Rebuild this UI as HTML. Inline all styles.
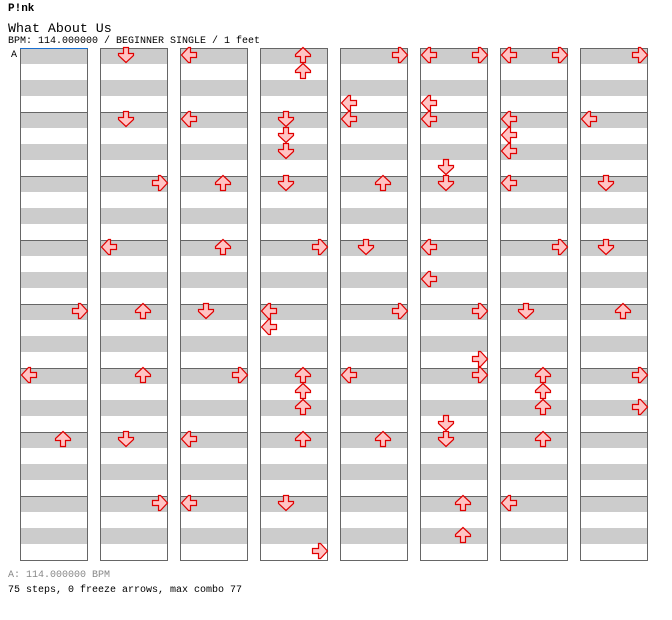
<!DOCTYPE html>
<html><head><meta charset="utf-8"><style>
body{margin:0;background:#fff;width:672px;height:620px;overflow:hidden;font-family:"Liberation Mono",monospace;}
.t{position:absolute;left:8px;white-space:pre;color:#000}
</style></head><body>
<div class="t" style="top:3px;font-size:11px;font-weight:bold">P!nk</div>
<div class="t" style="top:21px;font-size:13.3px">What About Us</div>
<div class="t" style="top:36px;font-size:10px">BPM: 114.000000 / BEGINNER SINGLE / 1 feet</div>
<div class="t" style="top:570px;font-size:10px;color:#888">A: 114.000000 BPM</div>
<div class="t" style="top:585px;font-size:10px">75 steps, 0 freeze arrows, max combo 77</div>
<svg id="chart" width="672" height="620" style="position:absolute;left:0;top:0"></svg>
<script>
// notes per measure: [lane, quarter position]; lanes 0=L 1=D 2=U 3=R
const measureNotes = [
[],[],[],[],[[3,0]],[[0,0]],[[2,0]],[],
[[1,0]],[[1,0]],[[3,0]],[[0,0]],[[2,0]],[[2,0]],[[1,0]],[[3,0]],
[[0,0]],[[0,0]],[[2,0]],[[2,0]],[[1,0]],[[3,0]],[[0,0]],[[0,0]],
[[2,0],[2,1]],[[1,0],[1,1],[1,2]],[[1,0]],[[3,0]],[[0,0],[0,1]],[[2,0],[2,1],[2,2]],[[2,0]],[[1,0],[3,3]],
[[3,0],[0,3]],[[0,0]],[[2,0]],[[1,0]],[[3,0]],[[0,0]],[[2,0]],[],
[[0,0],[3,0],[0,3]],[[0,0],[1,3]],[[1,0]],[[0,0],[0,2]],[[3,0],[3,3]],[[3,0],[1,3]],[[1,0]],[[2,0],[2,2]],
[[0,0],[3,0]],[[0,0],[0,1],[0,2]],[[0,0]],[[3,0]],[[1,0]],[[2,0],[2,1],[2,2]],[[2,0]],[[0,0]],
[[3,0]],[[0,0]],[[1,0]],[[1,0]],[[2,0]],[[3,0],[3,2]],[],[]
];
const measuresPerColumn = 8;
const NS="http://www.w3.org/2000/svg";
const svg=document.getElementById('chart');
const colX=c=>20+c*80, measY=r=>48+r*64, laneX=l=>1+l*17, posY=p=>p*16;
function mk(tag,attrs){const e=document.createElementNS(NS,tag);for(const k in attrs)e.setAttribute(k,attrs[k]);svg.appendChild(e);return e;}
const rot=[90,0,180,270];
measureNotes.forEach((notes,m)=>{
  const c=Math.floor(m/measuresPerColumn), r=m%measuresPerColumn;
  const x=colX(c), y=measY(r);
  for(let b=0;b<4;b++){
    const band=mk('rect',{x:x,y:y+b*16,width:68,height:16,fill:b%2?'#fff':'#ccc'});
    
    
  }
});
measureNotes.forEach((notes,m)=>{
  const c=Math.floor(m/measuresPerColumn), r=m%measuresPerColumn;
  const box=mk('rect',{x:colX(c)+0.5,y:measY(r)+0.5,width:67,height:64,fill:'none',stroke:'#666','stroke-width':1,'shape-rendering':'crispEdges'});
  
  
});
measureNotes.forEach((notes,m)=>{
  const c=Math.floor(m/measuresPerColumn), r=m%measuresPerColumn;
  notes.forEach(([lane,pos])=>{
    const ax=colX(c)+laneX(lane), ay=measY(r)+posY(pos)-1;
    const a=mk('polygon',{points:'5.5,0.5 10.5,0.5 10.5,6.5 15.5,6.5 15.5,8.5 8,15.5 0.5,8.5 0.5,6.5 5.5,6.5',
      fill:'#ffc4c4',stroke:'#e00000','stroke-width':1.2,
      transform:`translate(${ax},${ay}) rotate(${rot[lane]} 8 8)`});
    
    
  });
});
const bl=mk('line',{x1:20,y1:48.5,x2:88,y2:48.5,stroke:'#1a6fd0','stroke-width':1});


const at=mk('text',{x:11,y:57,'font-size':10,'font-family':'Liberation Mono, monospace',fill:'#000'});
at.textContent='A';


</script>
</body></html>
